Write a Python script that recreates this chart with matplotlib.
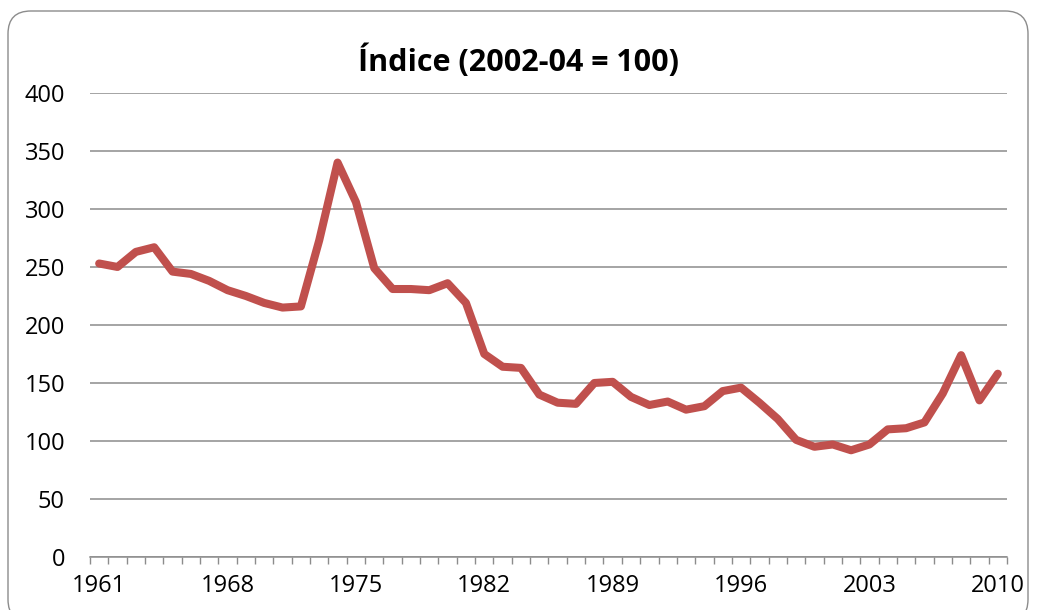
import matplotlib.pyplot as plt
import numpy as np
from matplotlib.patches import FancyBboxPatch

# data
years = list(range(1961, 2011))
index = [253, 250, 263, 267, 246, 244, 238, 230, 225, 219,
         215, 216, 273, 340, 306, 249, 231, 231, 230, 236,
         219, 175, 164, 163, 140, 133, 132, 150, 151, 138,
         131, 134, 127, 130, 143, 146, 133, 119, 101, 95,
         97, 92, 97, 110, 111, 116, 141, 174, 135, 158]
label_years = [1961, 1968, 1975, 1982, 1989, 1996, 2003, 2010]
y_ticks = [0, 50, 100, 150, 200, 250, 300, 350, 400]

plt.rcParams['font.family'] = ['Open Sans', 'DejaVu Sans']

fig = plt.figure(figsize=(10.38, 6.10), dpi=100)
ax = fig.add_axes([0.0867, 0.0869, 0.8834, 0.7607])

# rounded frame around the chart
fig.patches.append(FancyBboxPatch((8 / 1038, -0.02), 1020 / 1038, 1.0 + 0.02 - 11 / 610,
                                  boxstyle="round,pad=0,rounding_size=0.022",
                                  transform=fig.transFigure, facecolor='none',
                                  edgecolor='#8c8c8c', linewidth=1.0,
                                  mutation_aspect=1.7))

ax.plot(years, index, color='#C0504D', linewidth=5.8, solid_joinstyle='round',
        solid_capstyle='round', zorder=3)

ax.set_xlim(1960.5, 2010.5)
ax.set_ylim(0, 400)
ax.set_yticks(y_ticks)
ax.yaxis.grid(True, color='#8c8c8c', linewidth=1.1)
ax.tick_params(axis='y', length=0, labelsize=17, pad=18)

ax.set_xticks(label_years)
ax.set_xticks(np.arange(1960.5, 2011, 1.0), minor=True)
ax.tick_params(axis='x', which='major', length=0, labelsize=17, pad=12)
ax.tick_params(axis='x', which='minor', length=5, color='#8c8c8c', width=1)

for s in ['left', 'right', 'top']:
    ax.spines[s].set_visible(False)
ax.spines['bottom'].set_color('#8c8c8c')
ax.spines['bottom'].set_linewidth(1.1)

fig.text(0.5, 1 - 61 / 610, 'Índice (2002-04 = 100)', fontsize=22,
         fontweight='bold', ha='center', va='center')

fig.savefig('out.png', dpi=100)
